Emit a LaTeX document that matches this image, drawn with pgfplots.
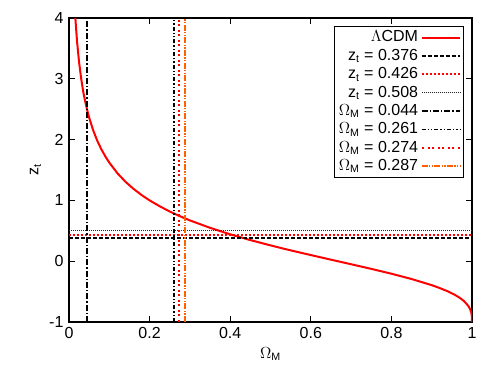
\documentclass[border=0pt]{standalone}
\usepackage{fontspec}
\setmainfont{Liberation Sans}
\usepackage{pgfplots}
\pgfplotsset{compat=1.18}
\definecolor{gpred}{RGB}{255,0,0}
\definecolor{gporange}{RGB}{255,96,0}

\begin{document}
\begin{tikzpicture}
\fontsize{12}{14}\selectfont
\useasboundingbox (-51.75pt,-49.5pt) rectangle (312pt,241.5pt);
\begin{axis}[
    at={(0,0)}, anchor=south west,
    scale only axis,
    width=302.25pt, height=228pt,
    xmin=0, xmax=1, ymin=-1, ymax=4,
    xtick={0,0.2,0.4,0.6,0.8,1},
    xticklabels={0,0.2,0.4,0.6,0.8,1},
    ytick={-1,0,1,2,3,4},
    tick align=inside,
    major tick length=4.5pt,
    tick style={black, line width=0.8pt},
    axis line style={line width=1pt},
    /pgf/number format/assume math mode=true,
    ticklabel style={font=\fontsize{12}{14}\selectfont},
    xlabel={$\Omega_{\mathrm{M}}$},
    ylabel={z$_{\mathrm{t}}$},
    xlabel style={font=\fontsize{12}{14}\selectfont, yshift=2pt},
    ylabel style={font=\fontsize{12}{14}\selectfont, yshift=-2pt},
    legend style={at={(0.98,0.975)}, anchor=north east,
        draw=black, line width=0.8pt, fill=white,
        font=\fontsize{12}{14}\selectfont,
        cells={anchor=east}, row sep=-0.4pt, inner sep=1.5pt},
    legend plot pos=right,
    legend image code/.code={\draw[#1] (0pt,0pt) -- (29pt,0pt);},
]
\addplot[gpred, line width=1.5pt] coordinates {
(0.01575,4.0) (0.02,3.610) (0.025,3.273) (0.03,3.013) (0.035,2.800) (0.04,2.634)
(0.045,2.488) (0.05,2.362) (0.06,2.153) (0.07,1.983) (0.08,1.844) (0.09,1.725)
(0.1,1.621) (0.12,1.448) (0.14,1.307) (0.16,1.190) (0.18,1.089) (0.2,1.0)
(0.225,0.904) (0.25,0.817) (0.275,0.741) (0.3,0.671) (0.35,0.549) (0.4,0.442)
(0.45,0.347) (0.5,0.260) (0.55,0.178) (0.6,0.101) (0.65,0.025) (0.7,-0.050)
(0.75,-0.126) (0.8,-0.206) (0.85,-0.293) (0.9,-0.394) (0.92,-0.442) (0.94,-0.496)
(0.96,-0.563) (0.97,-0.604) (0.98,-0.656) (0.99,-0.728) (0.995,-0.784)
(0.998,-0.841) (0.999,-0.874) (0.9995,-0.900) (0.9999,-0.942) (1,-1)};
\addlegendentry{$\Lambda$CDM}
\addplot[draw=black, line width=1.3pt, dash pattern=on 3pt off 1.5pt] coordinates {(0,0.376) (1,0.376)};
\addlegendentry{z$_{\mathrm{t}}$ = 0.376}
\addplot[draw=gpred, line width=1.4pt, dash pattern=on 1.5pt off 1.5pt] coordinates {(0,0.426) (1,0.426)};
\addlegendentry{z$_{\mathrm{t}}$ = 0.426}
\addplot[draw=black!85, line width=1.2pt, dash pattern=on 0.75pt off 0.75pt] coordinates {(0,0.508) (1,0.508)};
\addlegendentry{z$_{\mathrm{t}}$ = 0.508}
\addplot[draw=black, line width=1.3pt, dash pattern=on 4.5pt off 1.5pt on 1pt off 1.5pt] coordinates {(0.044,-1) (0.044,4)};
\addlegendentry{$\Omega_{\mathrm{M}}$ = 0.044}
\addplot[draw=black, line width=1.3pt, dash pattern=on 3pt off 1.5pt on 1pt off 1.5pt on 1pt off 1.5pt] coordinates {(0.261,-1) (0.261,4)};
\addlegendentry{$\Omega_{\mathrm{M}}$ = 0.261}
\addplot[draw=gpred, line width=1.4pt, dash pattern=on 1.5pt off 3pt on 1.5pt off 1.5pt] coordinates {(0.274,-1) (0.274,4)};
\addlegendentry{$\Omega_{\mathrm{M}}$ = 0.274}
\addplot[draw=gporange, line width=1.4pt, dash pattern=on 4.5pt off 1pt on 1pt off 1pt on 1pt off 1pt] coordinates {(0.287,-1) (0.287,4)};
\addlegendentry{$\Omega_{\mathrm{M}}$ = 0.287}
\end{axis}
\end{tikzpicture}
\end{document}
